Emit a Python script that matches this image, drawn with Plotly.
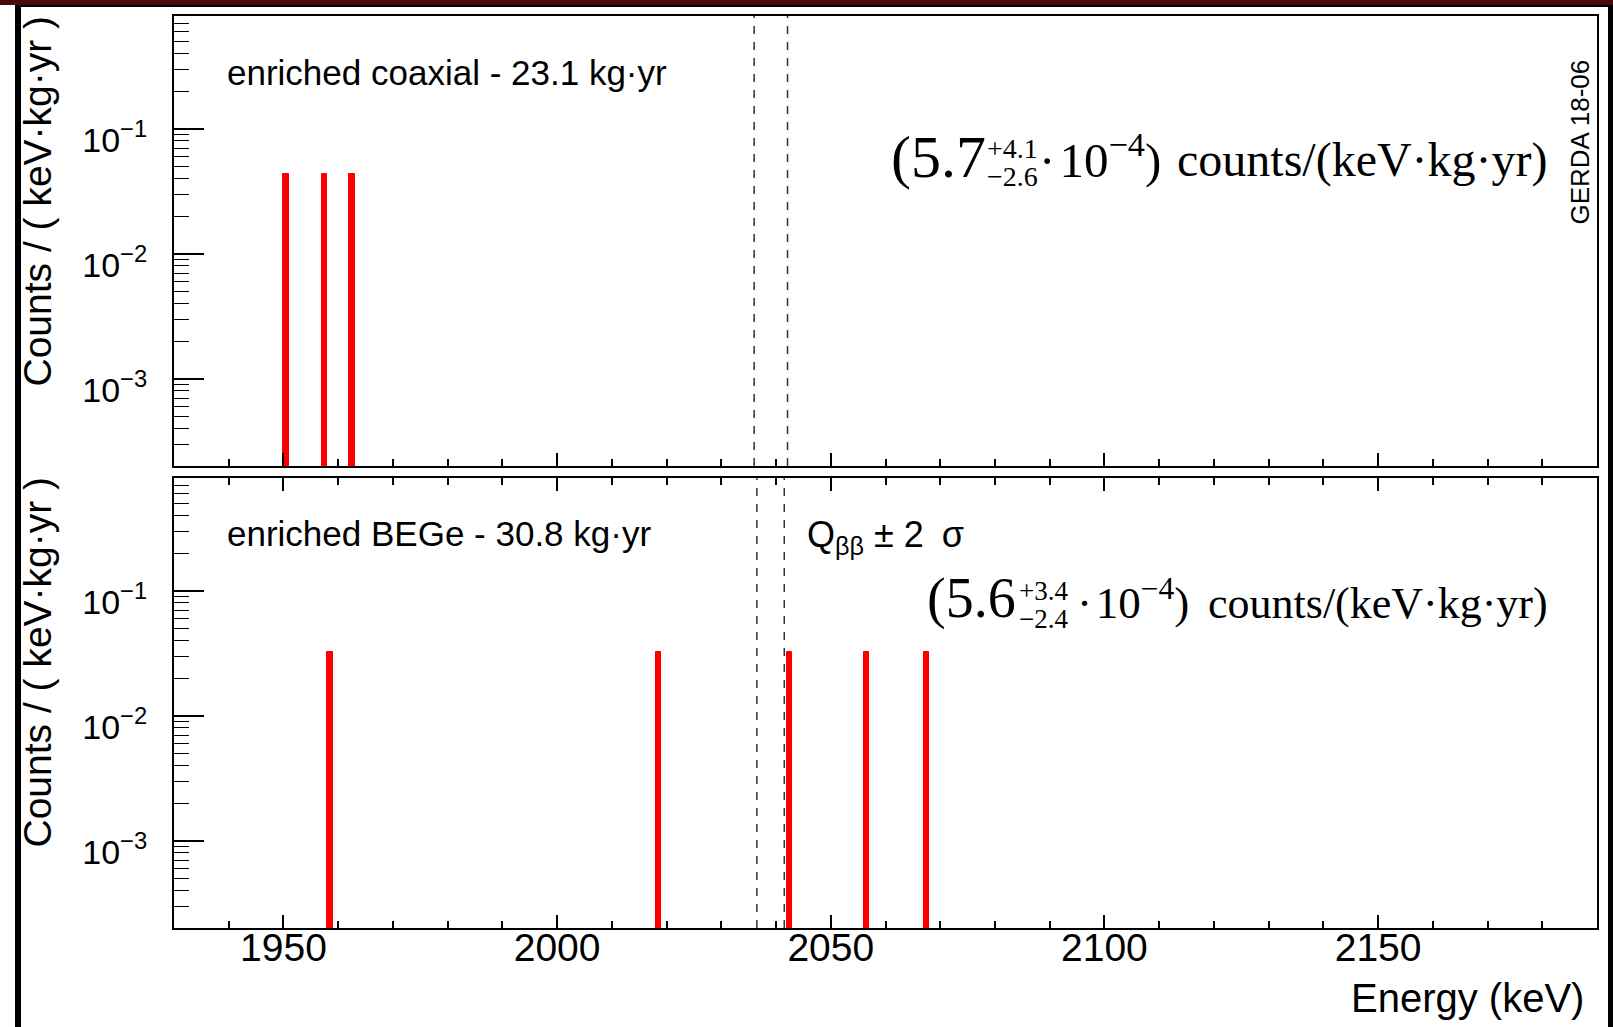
import math
import plotly.graph_objects as go

# ---------------- data ----------------
coax_exposure = 23.1          # kg·yr
bege_exposure = 30.8          # kg·yr
bin_width = 1.0               # keV
coax_bin_centres = [1950.5, 1957.5, 1962.5]                    # keV
coax_counts = [1, 1, 1]
bege_bin_centres = [1958.5, 2018.5, 2042.5, 2056.5, 2067.5]    # keV
bege_counts = [1, 1, 1, 1, 1]
q_bb = 2039.06                 # keV
coax_window = [2036.0, 2042.1]  # Qbb +- 2 sigma (coaxial)
bege_window = [2036.5, 2041.5]  # Qbb +- 2 sigma (BEGe)
x_range = [1930, 2190]
y_range = [2e-4, 0.8]
x_tick_vals = [1950, 2000, 2050, 2100, 2150]
y_tick_vals = [1e-3, 1e-2, 1e-1]
y_tick_text = ["10<sup>\u22123</sup>", "10<sup>\u22122</sup>", "10<sup>\u22121</sup>"]

coax_rate = [c / (bin_width * coax_exposure) for c in coax_counts]
bege_rate = [c / (bin_width * bege_exposure) for c in bege_counts]

# ---------------- geometry ----------------
W, H = 1613, 1027
L, R, T, B = 174, 1597, 16, 928
TOP_BOTTOM = 466
BOT_TOP = 478
SANS = "Liberation Sans, Arimo, Arial, Helvetica, sans-serif"
SERIF = "Liberation Serif, Tinos, Times New Roman, serif"


def xp(px):
    return (px - L) / (R - L)


def yp(py):
    return (B - py) / (B - T)


fig = go.Figure()

bar_marker = dict(color="#ff0000", line=dict(color="#ff0000", width=1))
fig.add_trace(go.Bar(x=coax_bin_centres, y=coax_rate, width=bin_width, marker=bar_marker,
                     xaxis="x", yaxis="y", showlegend=False))
fig.add_trace(go.Bar(x=bege_bin_centres, y=bege_rate, width=bin_width, marker=bar_marker,
                     xaxis="x2", yaxis="y2", showlegend=False))

common_x = dict(range=x_range, showline=True, linecolor="black", linewidth=2,
                showgrid=False, zeroline=False, ticks="inside", ticklen=13,
                tickwidth=1.5, tickcolor="black", tickmode="array", tickvals=x_tick_vals,
                minor=dict(ticks="inside", ticklen=7, tickwidth=1.5, tickcolor="black", dtick=10, tick0=0),
                tickfont=dict(family=SANS, size=39, color="black"), domain=[0, 1])
common_y = dict(type="log", range=[math.log10(y_range[0]), math.log10(y_range[1])],
                showline=True, linecolor="black", linewidth=2, mirror=True,
                showgrid=False, zeroline=False, ticks="inside", ticklen=30,
                tickwidth=1.5, tickcolor="black", tickmode="array",
                tickvals=y_tick_vals, ticktext=y_tick_text,
                minor=dict(ticks="inside", ticklen=15, tickwidth=1.2, tickcolor="black", dtick="D1"),
                tickfont=dict(family=SANS, size=34, color="black"), ticklabelstandoff=18,
                ticklabelshift=11)

fig.update_layout(
    width=W, height=H,
    margin=dict(l=L, r=W - R, t=T, b=H - B, pad=0, autoexpand=False),
    paper_bgcolor="white", plot_bgcolor="white",
    bargap=0,
    xaxis=dict(common_x, anchor="y", showticklabels=False, mirror=True),
    xaxis2=dict(common_x, anchor="y2", showticklabels=True, mirror="ticks", ticklabelstandoff=-16),
    yaxis=dict(common_y, anchor="x", domain=[(B - TOP_BOTTOM) / (B - T), 1]),
    yaxis2=dict(common_y, anchor="x2", domain=[0, (B - BOT_TOP) / (B - T)]),
)

# dashed Qbb +- 2 sigma lines
for xv in coax_window:
    fig.add_shape(type="line", xref="x", yref="y domain", x0=xv, x1=xv, y0=0, y1=1,
                  line=dict(color="#333333", width=1.5, dash="8px,8px"))
for xv in bege_window:
    fig.add_shape(type="line", xref="x2", yref="y2 domain", x0=xv, x1=xv, y0=0, y1=1,
                  line=dict(color="#333333", width=1.5, dash="8px,8px"))

# outer slide frame
frame = [
    ((0, W), (0, 5), "#4a0808"),
    ((15, W), (5, 7), "black"),
    ((15, 21), (5, H), "black"),
    ((1608, W), (5, H), "black"),
]
for (x0, x1), (y0, y1), col in frame:
    fig.add_shape(type="rect", xref="paper", yref="paper", x0=xp(x0), x1=xp(x1),
                  y0=yp(y1), y1=yp(y0), fillcolor=col, line=dict(width=0), layer="above")


def ann(text, px, py, size, family=SANS, xanchor="left", yanchor="bottom", angle=0):
    fig.add_annotation(text=text, x=xp(px), y=yp(py), xref="paper", yref="paper",
                       xanchor=xanchor, yanchor=yanchor, textangle=angle, showarrow=False,
                       font=dict(family=family, size=size, color="black"),
                       borderpad=0, borderwidth=0)


def base(baseline, size, descent=0.212):
    # pixel y of the bottom of the text box for a given baseline
    return baseline + descent * size


# labels
ann("enriched coaxial - 23.1 kg\u00b7yr", 227, base(85, 35), 35)
ann("enriched BEGe - 30.8 kg\u00b7yr", 227, base(546, 35), 35)
ann("Q<sub>\u03b2\u03b2</sub> \u00b1 2\u2002\u03c3", 807, 547 - 0.905 * 36, 36, yanchor="top")

# formula, top
ann("(5.7", 986, base(177, 60, 0.216), 60, SERIF, xanchor="right")
ann("+4.1", 987, base(158, 28, 0.216), 28, SERIF)
ann("\u22122.6", 987, base(186, 28, 0.216), 28, SERIF)
ann("\u00b7\u200a10<sup>\u22124</sup>)", 1039, base(177, 49, 0.216), 49, SERIF)
ann("counts/(keV\u00b7kg\u00b7yr)", 1548, base(177, 48, 0.216), 48, SERIF, xanchor="right")

# formula, bottom
ann("(5.6", 1016, base(618, 56, 0.216), 56, SERIF, xanchor="right")
ann("+3.4", 1019, base(600, 27, 0.216), 27, SERIF)
ann("\u22122.4", 1019, base(628, 27, 0.216), 27, SERIF)
ann("\u00b7\u200a10<sup>\u22124</sup>)", 1077, base(618, 45, 0.216), 45, SERIF)
ann("counts/(keV\u00b7kg\u00b7yr)", 1548, base(618, 44, 0.216), 44, SERIF, xanchor="right")

# axis titles
ann("Counts / ( keV\u00b7kg\u00b7yr )", 37, 16, 39, xanchor="center", yanchor="top", angle=-90)
ann("Counts / ( keV\u00b7kg\u00b7yr )", 37, 477, 39, xanchor="center", yanchor="top", angle=-90)
ann("Energy (keV)", 1584, base(1012, 40), 40, xanchor="right")
ann("GERDA 18-06", 1580, 142.5, 26, xanchor="center", yanchor="middle", angle=-90)

fig.write_html("out.html", config={"displayModeBar": False},
               post_script="document.body.style.margin='0px';")
